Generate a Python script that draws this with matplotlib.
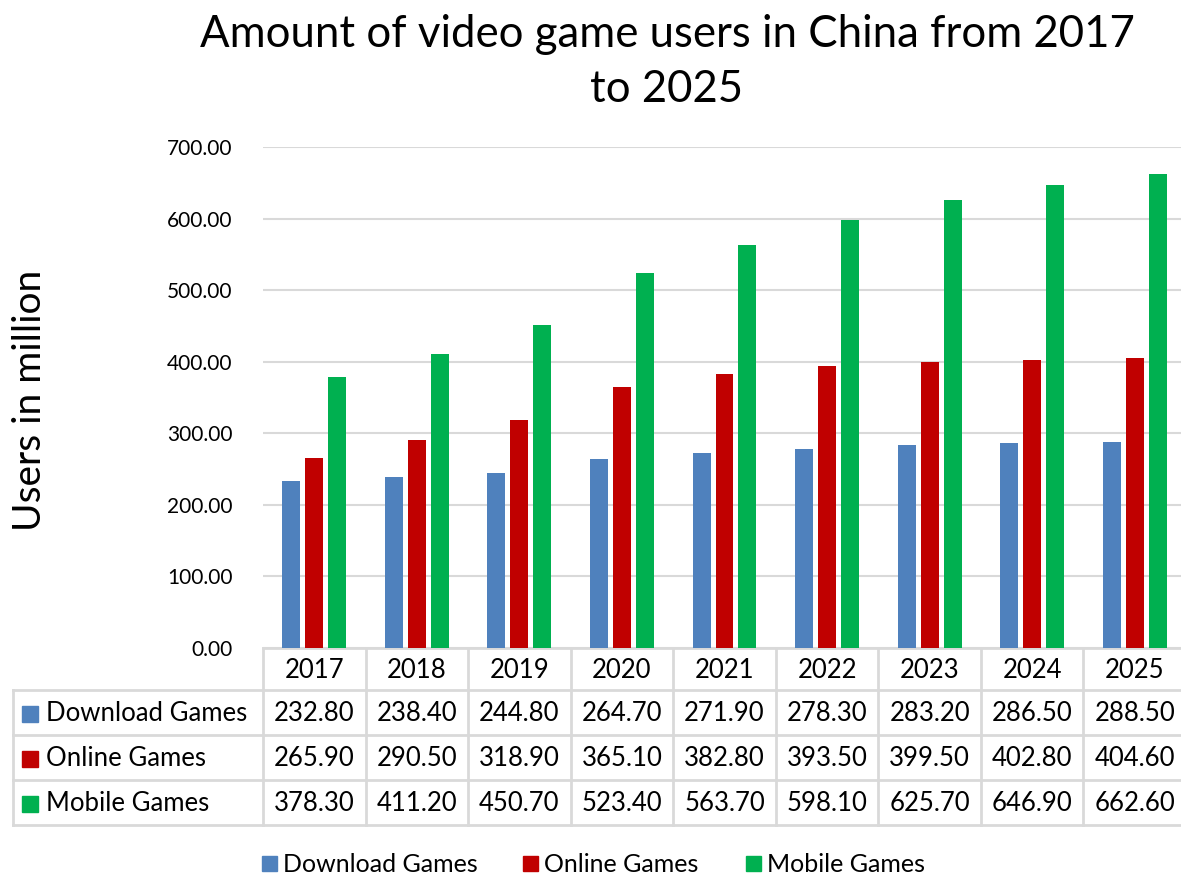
import numpy as np
import matplotlib.pyplot as plt
from matplotlib.patches import Rectangle

years = ["2017", "2018", "2019", "2020", "2021", "2022", "2023", "2024", "2025"]
series_names = ["Download Games", "Online Games", "Mobile Games"]
download = [232.80, 238.40, 244.80, 264.70, 271.90, 278.30, 283.20, 286.50, 288.50]
online = [265.90, 290.50, 318.90, 365.10, 382.80, 393.50, 399.50, 402.80, 404.60]
mobile = [378.30, 411.20, 450.70, 523.40, 563.70, 598.10, 625.70, 646.90, 662.60]
colors = ["#4F81BD", "#C00000", "#00B050"]

plt.rcParams['font.family'] = ['Lato', 'DejaVu Sans']

W, H = 1181, 875
fig = plt.figure(figsize=(W / 100, H / 100), dpi=100)

# plot area in pixel coords
left, right, top, bottom = 263, 1186, 147, 648
ax = fig.add_axes([left / W, 1 - bottom / H, (right - left) / W, (bottom - top) / H])

x = np.arange(len(years))
bw = 0.175
off = 0.224
for i, vals in enumerate([download, online, mobile]):
    ax.bar(x + (i - 1) * off, vals, width=bw, color=colors[i], zorder=3)

ax.set_xlim(-0.5, len(years) - 0.5)
ax.set_ylim(0, 700)
ax.set_yticks(np.arange(0, 701, 100))
ax.set_yticklabels([f"{v:.2f}" for v in np.arange(0, 701, 100)], fontsize=15)
ax.set_xticks([])
ax.grid(axis='y', color='#d9d9d9', linewidth=1.5, zorder=0)
for s in ax.spines.values():
    s.set_visible(False)
ax.tick_params(axis='y', length=0, pad=22)

fig.text(30 / W, 1 - 400 / H, "Users in million", rotation=90, fontsize=28,
         ha='center', va='center')
fig.text(667 / W, 1 - 62 / H, "Amount of video game users in China from 2017\nto 2025",
         fontsize=31.5, ha='center', va='center', linespacing=1.45)

# data table underneath, drawn on an overlay in pixel coords
ov = fig.add_axes([0, 0, 1, 1], zorder=-1)
ov.set_xlim(0, W)
ov.set_ylim(H, 0)
ov.axis('off')

gc = '#d9d9d9'
lw = 2
col_w = (right - left) / len(years)
row_y = [648, 690, 735, 780, 825]
tab_left = 13
fs = 18.5

# horizontal lines
ov.plot([left, right], [row_y[0], row_y[0]], color=gc, lw=lw)
for yy in row_y[1:]:
    ov.plot([tab_left, right], [yy, yy], color=gc, lw=lw)
# vertical lines
ov.plot([tab_left, tab_left], [row_y[1], row_y[-1]], color=gc, lw=lw)
for j in range(len(years) + 1):
    xx = left + j * col_w
    ov.plot([xx, xx], [row_y[0], row_y[-1]], color=gc, lw=lw)

for j, yr in enumerate(years):
    cx = left + (j + 0.5) * col_w
    ov.text(cx, (row_y[0] + row_y[1]) / 2 + 1, yr, fontsize=fs, ha='center', va='center')

for r, (name, vals) in enumerate(zip(series_names, [download, online, mobile])):
    cy = (row_y[r + 1] + row_y[r + 2]) / 2
    ov.add_patch(Rectangle((22, cy - 7), 16, 16, color=colors[r]))
    ov.text(46, cy + 1, name, fontsize=fs, ha='left', va='center')
    for j, v in enumerate(vals):
        cx = left + (j + 0.5) * col_w
        ov.text(cx, cy + 1, f"{v:.2f}", fontsize=fs, ha='center', va='center')

# legend at the bottom
leg_x = [262, 523, 746]
for r, name in enumerate(series_names):
    ov.add_patch(Rectangle((leg_x[r], 856), 15, 15, color=colors[r]))
    ov.text(leg_x[r] + 21, 864, name, fontsize=18, ha='left', va='center')

fig.savefig("out.png", dpi=100)
